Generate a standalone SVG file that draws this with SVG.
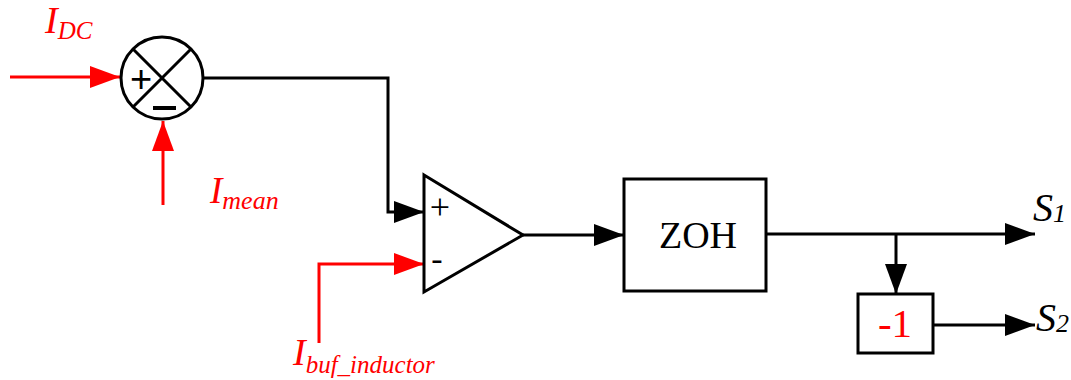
<svg xmlns="http://www.w3.org/2000/svg" width="1071" height="380" viewBox="0 0 1071 380">
<defs>
<marker id="ab" markerWidth="30" markerHeight="22" refX="30" refY="11" markerUnits="userSpaceOnUse" orient="auto"><path d="M0,0 L30,11 L0,22 Z" fill="#000"/></marker>
<marker id="ar" markerWidth="30" markerHeight="22" refX="30" refY="11" markerUnits="userSpaceOnUse" orient="auto"><path d="M0,0 L30,11 L0,22 Z" fill="#f00"/></marker>
</defs>
<style>
.k{stroke:#000;stroke-width:3;fill:none}
.r{stroke:#f00;stroke-width:3;fill:none}
.box{stroke:#000;stroke-width:3;fill:#fff}
.lbl{font-family:"Liberation Serif",serif;font-style:italic;fill:#f00}
.out{font-family:"Liberation Serif",serif;font-style:italic;fill:#000}
.t{font-family:"Liberation Serif",serif}
.s{font-family:"Liberation Sans",sans-serif}
</style>
<g id="connectors">
<path class="r" d="M10,77 L120,77" marker-end="url(#ar)"/>
<path class="r" d="M163,205 L163,121" marker-end="url(#ar)"/>
<path class="k" d="M204,78 L388,78 L388,212 L424,212" marker-end="url(#ab)"/>
<path class="r" d="M319,343 L319,264 L424,264" marker-end="url(#ar)"/>
<path class="k" d="M523,235 L624,235" marker-end="url(#ab)"/>
<path class="k" d="M766,234 L1035,234" marker-end="url(#ab)"/>
<path class="k" d="M896,234 L896,294" marker-end="url(#ab)"/>
<path class="k" d="M933,325 L1035,325" marker-end="url(#ab)"/>
</g>
<g id="sum">
<circle cx="162" cy="78" r="41" class="box"/>
<path class="k" d="M133,49 L191,107 M191,49 L133,107"/>
<text x="141" y="92" class="s" font-size="38" text-anchor="middle">+</text>
<path d="M153,108 L176,108" stroke="#000" stroke-width="4"/>
</g>
<g id="comparator">
<path class="box" d="M424,175 L523,235 L424,292 Z"/>
<text x="440" y="219" class="t" font-size="36" text-anchor="middle">+</text>
<text x="437" y="270" class="t" font-size="34" text-anchor="middle">-</text>
</g>
<g id="zoh">
<rect x="624" y="179" width="142" height="112" class="box"/>
<text x="698" y="248" class="t" font-size="38" text-anchor="middle">ZOH</text>
</g>
<g id="neg">
<rect x="858" y="294" width="75" height="59" class="box"/>
<text x="895" y="337" class="t" font-size="41" text-anchor="middle" fill="#f00">-1</text>
</g>
<g id="labels">
<text x="45" y="33" class="lbl" font-size="38">I<tspan font-size="25" dy="6">DC</tspan></text>
<text x="210" y="203" class="lbl" font-size="37">I<tspan font-size="26" dy="6">mean</tspan></text>
<text x="293" y="365" class="lbl" font-size="38">I<tspan font-size="25" dy="8">buf_inductor</tspan></text>
<text x="1033" y="221" class="out" font-size="40">S<tspan font-size="26" dy="1">1</tspan></text>
<text x="1036" y="331" class="out" font-size="40">S<tspan font-size="26" dy="1">2</tspan></text>
</g>
</svg>
